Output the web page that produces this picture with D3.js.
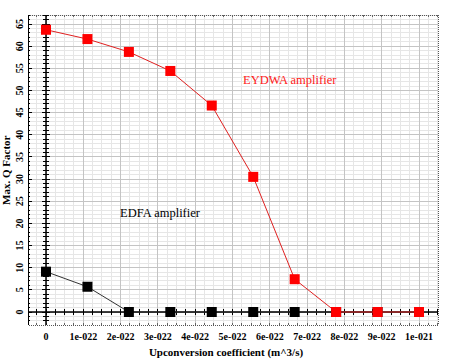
<!DOCTYPE html>
<html><head><meta charset="utf-8">
<script src="https://cdn.jsdelivr.net/npm/d3@7"></script>
<style>body{margin:0;background:#fff}svg{display:block}</style>
</head><body>
<script>
const xValues = [0, 1.111e-22, 2.222e-22, 3.333e-22, 4.444e-22, 5.556e-22, 6.667e-22, 7.778e-22, 8.889e-22, 1e-21];
const eydwa = [63.7, 61.6, 58.7, 54.4, 46.6, 30.5, 7.4, 0, 0, 0];
const edfa = [9.1, 5.7, 0, 0, 0, 0, 0, 0, 0, 0];
const xTicks = [0,1e-22,2e-22,3e-22,4e-22,5e-22,6e-22,7e-22,8e-22,9e-22,1e-21];
const xTickLabels = ["0","1e-022","2e-022","3e-022","4e-022","5e-022","6e-022","7e-022","8e-022","9e-022","1e-021"];
const yTicks = [0,5,10,15,20,25,30,35,40,45,50,55,60,65];

const W=450,H=364;
const svg=d3.select("body").append("svg").attr("width",W).attr("height",H);
const x=d3.scaleLinear().domain([0,1e-21]).range([46,419]);
const y=d3.scaleLinear().domain([0,65]).range([312,24]);
const L=28,R=438,T=15,B=325;
const xInv=v=>x.invert(v);

// minor grid
const xStep=1e-22/4;
const xMinor=d3.range(Math.ceil(xInv(L)/xStep),Math.floor(xInv(R)/xStep)+1).map(i=>i*xStep);
const yMinor=d3.range(Math.ceil(y.invert(B)),Math.floor(y.invert(T))+1);
const g=svg.append("g");
g.selectAll(".vm").data(xMinor).join("line").attr("x1",d=>x(d)).attr("x2",d=>x(d)).attr("y1",T).attr("y2",B)
 .attr("stroke","#e6e6e6").attr("stroke-width",1).attr("shape-rendering","crispEdges");
g.selectAll(".hm").data(yMinor).join("line").attr("y1",d=>y(d)).attr("y2",d=>y(d)).attr("x1",L).attr("x2",R)
 .attr("stroke","#e6e6e6").attr("stroke-width",1).attr("shape-rendering","crispEdges");
g.selectAll(".vM").data(xTicks).join("line").attr("x1",d=>x(d)).attr("x2",d=>x(d)).attr("y1",T).attr("y2",B)
 .attr("stroke","#c4c4c4").attr("stroke-width",1).attr("shape-rendering","crispEdges");
g.selectAll(".hM").data(yTicks).join("line").attr("y1",d=>y(d)).attr("y2",d=>y(d)).attr("x1",L).attr("x2",R)
 .attr("stroke","#c4c4c4").attr("stroke-width",1).attr("shape-rendering","crispEdges");

// frame (dotted)
svg.append("rect").attr("x",L).attr("y",T).attr("width",R-L).attr("height",B-T)
 .attr("fill","none").attr("stroke","#555").attr("stroke-dasharray","1,1").attr("shape-rendering","crispEdges");
// left ruler solid
svg.append("line").attr("x1",L).attr("x2",L).attr("y1",T).attr("y2",B).attr("stroke","#000").attr("shape-rendering","crispEdges");
svg.selectAll(".lt").data(yMinor).join("line").attr("x1",L).attr("x2",d=>L+(d%5===0?4:2)).attr("y1",d=>y(d)).attr("y2",d=>y(d))
 .attr("stroke","#000").attr("shape-rendering","crispEdges");
// bottom ruler ticks
svg.selectAll(".bt").data(xMinor).join("line").attr("x1",d=>x(d)).attr("x2",d=>x(d)).attr("y1",B).attr("y2",B-2)
 .attr("stroke","#666").attr("shape-rendering","crispEdges");
svg.selectAll(".tt").data(xMinor).join("line").attr("x1",d=>x(d)).attr("x2",d=>x(d)).attr("y1",T).attr("y2",T+2)
 .attr("stroke","#666").attr("shape-rendering","crispEdges");

// axes through zero
const yAx=svg.append("g").attr("transform",`translate(${x(0)},0)`);
yAx.append("line").attr("x1",0).attr("x2",0).attr("y1",T).attr("y2",B).attr("stroke","#000").attr("stroke-width",1.5);
yAx.selectAll("line.t").data(yMinor).join("line").attr("class","t").attr("x1",d=>d%5===0?-4:-3).attr("x2",d=>d%5===0?4:3)
 .attr("y1",d=>y(d)).attr("y2",d=>y(d)).attr("stroke","#000").attr("shape-rendering","crispEdges");
const xAx=svg.append("g").attr("transform",`translate(0,${y(0)})`);
xAx.append("line").attr("x1",L).attr("x2",R).attr("y1",0).attr("y2",0).attr("stroke","#000").attr("stroke-width",1.5);
xAx.selectAll("line.t").data(xMinor).join("line").attr("class","t").attr("x1",d=>x(d)).attr("x2",d=>x(d))
 .attr("y1",-3).attr("y2",3).attr("stroke","#000").attr("shape-rendering","crispEdges");

// tick labels
const font="'Liberation Serif','Times New Roman',serif";
svg.selectAll(".xl").data(xTicks).join("text").attr("x",d=>x(d)).attr("y",340).attr("text-anchor","middle")
 .attr("font-family",font).attr("font-weight","bold").attr("font-size",10).text((d,i)=>xTickLabels[i]);
svg.selectAll(".yl").data(yTicks).join("text").attr("transform",d=>`translate(23,${y(d)}) rotate(-90)`)
 .attr("text-anchor","middle").attr("font-family",font).attr("font-weight","bold").attr("font-size",10).text(d=>d);

// titles
svg.append("text").attr("x",226).attr("y",356).attr("text-anchor","middle").attr("font-family",font)
 .attr("font-weight","bold").attr("font-size",11).text("Upconversion coefficient (m^3/s)");
svg.append("text").attr("transform",`translate(10,${y(32)}) rotate(-90)`).attr("text-anchor","middle").attr("font-family",font)
 .attr("font-weight","bold").attr("font-size",11).text("Max. Q Factor");

// series
const line=d3.line().x((d,i)=>x(xValues[i])).y(d=>y(d));
function series(data,color,lineColor){
  svg.append("path").datum(data).attr("d",line).attr("fill","none").attr("stroke",lineColor).attr("stroke-width",1);
  svg.selectAll(null).data(data).join("rect").attr("x",(d,i)=>x(xValues[i])-5).attr("y",d=>y(d)-5)
   .attr("width",10).attr("height",10).attr("fill",color);
}
series(edfa,"#000","#333");
series(eydwa,"#ff0000","#e02020");

// annotations
svg.append("text").attr("x",243).attr("y",84).attr("font-family",font).attr("font-size",12.5).attr("fill","#ff2020").text("EYDWA amplifier");
svg.append("text").attr("x",120).attr("y",217).attr("font-family",font).attr("font-size",12.5).attr("fill","#000").text("EDFA amplifier");
</script>
</body></html>
